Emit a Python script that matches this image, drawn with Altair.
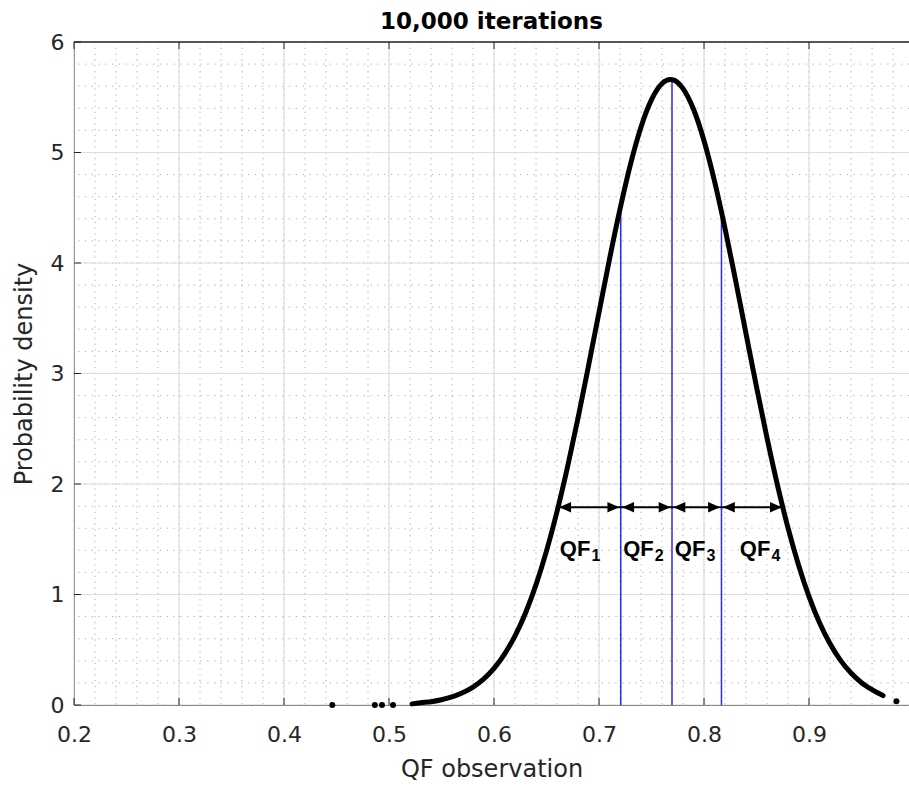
import altair as alt
import pandas as pd

# ---- data ----
curve_x = [0.522, 0.53, 0.54, 0.55, 0.56, 0.57, 0.58, 0.59, 0.60, 0.61, 0.62, 0.63, 0.64,
           0.65, 0.66, 0.67, 0.68, 0.69, 0.70, 0.71, 0.72, 0.73, 0.74, 0.75, 0.76, 0.768,
           0.77, 0.78, 0.79, 0.80, 0.81, 0.82, 0.83, 0.84, 0.85, 0.86, 0.87, 0.88, 0.89,
           0.90, 0.91, 0.92, 0.93, 0.94, 0.95, 0.96, 0.9705]
curve_y = [0.01, 0.02, 0.03, 0.048, 0.073, 0.11, 0.162, 0.234, 0.331, 0.46, 0.625, 0.833, 1.089,
           1.395, 1.751, 2.154, 2.597, 3.07, 3.555, 4.036, 4.488, 4.895, 5.231, 5.478, 5.624, 5.66,
           5.659, 5.578, 5.391, 5.106, 4.74, 4.313, 3.845, 3.36, 2.878, 2.416, 1.988, 1.602, 1.267,
           0.981, 0.744, 0.554, 0.404, 0.289, 0.202, 0.139, 0.085]

dots_x = [0.446, 0.4865, 0.4933, 0.5038, 0.9832]
dots_y = [0.0, 0.0, 0.0, 0.0, 0.034]

split_x = [0.7207, 0.7695, 0.8166]
split_top = [4.52, 5.66, 4.44]

arrow_bounds = [0.6607, 0.7207, 0.7695, 0.8166, 0.8755]
arrow_y = 1.79

qf_subs = ["1", "2", "3", "4"]
qf_x = [0.6918, 0.7521, 0.8013, 0.8632]
qf_y = 1.344

x_major = [0.2, 0.3, 0.4, 0.5, 0.6, 0.7, 0.8, 0.9]
y_major = [0, 1, 2, 3, 4, 5, 6]
x_minor = [round(0.2 + 0.02 * i, 2) for i in range(40)]
y_minor = [round(0.2 * i, 1) for i in range(31)]

XDOM = [0.2, 0.9952]
YDOM = [0, 6]
W, H = 835, 663
TXT = "#262626"

xs = alt.Scale(domain=XDOM, nice=False, zero=False)
ys = alt.Scale(domain=YDOM, nice=False)

curve_df = pd.DataFrame({"x": curve_x, "y": curve_y})
dots_df = pd.DataFrame({"x": dots_x, "y": dots_y})
split_df = pd.DataFrame({"x": split_x, "top": split_top, "base": [0.0] * len(split_x)})
seg_df = pd.DataFrame({"x1": arrow_bounds[:-1], "x2": arrow_bounds[1:], "y": [arrow_y] * 4})
lefthead_df = pd.DataFrame({"x": arrow_bounds[:-1], "y": [arrow_y] * 4})
righthead_df = pd.DataFrame({"x": arrow_bounds[1:], "y": [arrow_y] * 4})
qf_df = pd.DataFrame({"x": qf_x, "y": [qf_y] * 4, "sub": qf_subs, "main": ["QF"] * 4})
xmin_df = pd.DataFrame({"v": x_minor})
ymin_df = pd.DataFrame({"v": y_minor})
xmaj_df = pd.DataFrame({"v": x_major})
ymaj_df = pd.DataFrame({"v": y_major})

x_axis = alt.Axis(values=x_major, format=".1f", grid=False, ticks=False, labelFlush=False,
                  labelFontSize=22, labelFont="DejaVu Sans", labelColor=TXT, labelPadding=19,
                  title="QF observation", titleFontSize=24, titleFont="DejaVu Sans",
                  titleFontWeight="normal", titleColor=TXT, titlePadding=12,
                  domainColor=TXT, domainWidth=1)
y_axis = alt.Axis(values=y_major, format="d", grid=False, ticks=False, labelFlush=False,
                  labelFontSize=22, labelFont="DejaVu Sans", labelColor=TXT, labelPadding=10,
                  title="Probability density", titleFontSize=24, titleFont="DejaVu Sans",
                  titleFontWeight="normal", titleColor=TXT, titlePadding=14,
                  domainColor=TXT, domainWidth=1)

minor_x = alt.Chart(xmin_df).mark_rule(color="#b0b0b0", strokeWidth=1, strokeDash=[1.3, 4.5]).encode(
    x=alt.X("v:Q", scale=xs, axis=x_axis))
minor_y = alt.Chart(ymin_df).mark_rule(color="#b0b0b0", strokeWidth=1, strokeDash=[1.3, 5.5]).encode(
    y=alt.Y("v:Q", scale=ys, axis=y_axis))
major_x = alt.Chart(xmaj_df).mark_rule(color="#dedede", strokeWidth=1.2).encode(
    x=alt.X("v:Q", scale=xs))
major_y = alt.Chart(ymaj_df).mark_rule(color="#dedede", strokeWidth=1.2).encode(
    y=alt.Y("v:Q", scale=ys))

tick_len = 7
ticks_bottom = alt.Chart(xmaj_df).mark_rule(color=TXT, strokeWidth=1).encode(
    x=alt.X("v:Q", scale=xs), y=alt.value(H), y2=alt.value(H - tick_len))
ticks_top = alt.Chart(xmaj_df).mark_rule(color=TXT, strokeWidth=1).encode(
    x=alt.X("v:Q", scale=xs), y=alt.value(0), y2=alt.value(tick_len))
ticks_left = alt.Chart(ymaj_df).mark_rule(color=TXT, strokeWidth=1).encode(
    y=alt.Y("v:Q", scale=ys), x=alt.value(0), x2=alt.value(tick_len))
top_border = alt.Chart(pd.DataFrame({"v": [6]})).mark_rule(color=TXT, strokeWidth=1.5).encode(
    y=alt.Y("v:Q", scale=ys))

splits = alt.Chart(split_df).mark_rule(color="#2a2af0", strokeWidth=1.5).encode(
    x=alt.X("x:Q", scale=xs), y=alt.Y("base:Q", scale=ys), y2="top:Q")

curve = alt.Chart(curve_df).mark_line(color="black", strokeWidth=5, interpolate="monotone",
                                      strokeCap="round").encode(
    x=alt.X("x:Q", scale=xs), y=alt.Y("y:Q", scale=ys))
dots = alt.Chart(dots_df).mark_circle(color="black", size=36, opacity=1).encode(
    x=alt.X("x:Q", scale=xs), y=alt.Y("y:Q", scale=ys))

segs = alt.Chart(seg_df).mark_rule(color="black", strokeWidth=2).encode(
    x=alt.X("x1:Q", scale=xs), x2="x2:Q", y=alt.Y("y:Q", scale=ys))
HEAD_SIZE = 560
lefthead = alt.Chart(lefthead_df).mark_point(
    shape="M0,0L1,-0.45L1,0.45Z", filled=True, color="black", size=HEAD_SIZE, opacity=1,
    xOffset=1.5).encode(x=alt.X("x:Q", scale=xs), y=alt.Y("y:Q", scale=ys))
righthead = alt.Chart(righthead_df).mark_point(
    shape="M0,0L-1,-0.45L-1,0.45Z", filled=True, color="black", size=HEAD_SIZE, opacity=1,
    xOffset=-1.5).encode(x=alt.X("x:Q", scale=xs), y=alt.Y("y:Q", scale=ys))

qf_main = alt.Chart(qf_df).mark_text(align="right", baseline="alphabetic", font="Liberation Sans",
                                     fontWeight="bold", fontSize=22, color="black").encode(
    x=alt.X("x:Q", scale=xs), y=alt.Y("y:Q", scale=ys), text="main:N")
qf_sub = alt.Chart(qf_df).mark_text(align="left", baseline="alphabetic", font="Liberation Sans",
                                    fontWeight="bold", fontSize=16, color="black", dx=1, dy=5).encode(
    x=alt.X("x:Q", scale=xs), y=alt.Y("y:Q", scale=ys), text="sub:N")

chart = alt.layer(
    minor_x, minor_y, major_x, major_y, ticks_bottom, ticks_top, ticks_left, top_border,
    splits, curve, dots, segs, lefthead, righthead, qf_main, qf_sub
).properties(
    width=W, height=H,
    title=alt.TitleParams("10,000 iterations", font="DejaVu Sans", fontSize=23, fontWeight="bold",
                          color="black", anchor="middle", offset=-3),
    padding={"left": 74, "top": 42, "right": 0, "bottom": 84},
    autosize=alt.AutoSizeParams(type="none"),
).configure_view(stroke=None)

chart.save("out.html", embed_options={"renderer": "svg", "actions": False})
